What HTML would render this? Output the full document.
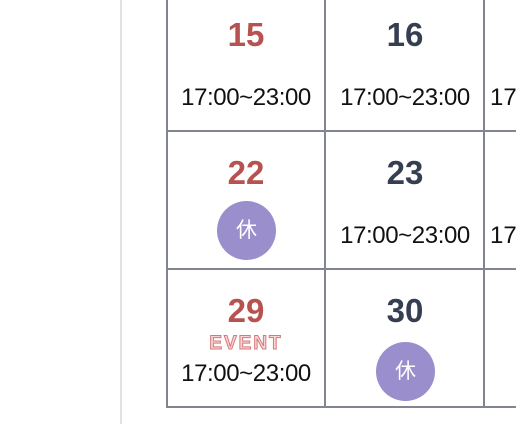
<!DOCTYPE html>
<html><head><meta charset="utf-8"><style>
html,body{margin:0;width:516px;height:424px;overflow:hidden}
body{background:#fff;position:relative;font-family:"Liberation Sans","Noto Sans CJK JP",sans-serif}
#wrap{position:absolute;left:0;top:0;width:516px;height:424px;overflow:hidden}
.vl{position:absolute;left:120px;top:0;width:2px;height:424px;background:#e2e2e6}
.grid{position:absolute;background:#80858f}
.num{position:absolute;width:158px;text-align:center;font-size:33px;font-weight:bold;line-height:1}
.red{color:#b6524f}.dark{color:#363e52}
.time{position:absolute;width:158px;text-align:center;font-size:24px;color:#111;line-height:1;letter-spacing:-0.4px}
.off{position:absolute;width:59px;height:59px;border-radius:50%;background:#9a8ecc;color:#fff;font-size:21px;text-align:center;line-height:59px}
.ev{position:absolute;width:158px;text-align:center;font-size:19px;font-weight:bold;color:#f6d6d6;-webkit-text-stroke:1px #d9787a;letter-spacing:2px;line-height:1}
.part{position:absolute;left:490px;width:26px;overflow:hidden;white-space:nowrap;font-size:24px;color:#111;line-height:1}
</style></head><body>
<div id="wrap">
<div class="vl"></div>
<div class="grid" style="left:166px;top:0;width:2px;height:408px"></div>
<div class="grid" style="left:324px;top:0;width:2px;height:408px"></div>
<div class="grid" style="left:483px;top:0;width:2px;height:408px"></div>
<div class="grid" style="left:166px;top:130px;width:350px;height:2px"></div>
<div class="grid" style="left:166px;top:268px;width:350px;height:2px"></div>
<div class="grid" style="left:166px;top:406px;width:350px;height:2px"></div>

<div class="num red" style="left:167px;top:18px">15</div>
<div class="time" style="left:167px;top:86px">17:00~23:00</div>
<div class="num dark" style="left:326px;top:18px">16</div>
<div class="time" style="left:326px;top:86px">17:00~23:00</div>
<div class="part" style="top:86px">17:00~23:00</div>

<div class="num red" style="left:167px;top:156px">22</div>
<div class="off" style="left:217px;top:201px">休</div>
<div class="num dark" style="left:326px;top:156px">23</div>
<div class="time" style="left:326px;top:224px">17:00~23:00</div>
<div class="part" style="top:224px">17:00~23:00</div>

<div class="num red" style="left:167px;top:294px">29</div>
<div class="ev" style="left:167px;top:334px">EVENT</div>
<div class="time" style="left:167px;top:362px">17:00~23:00</div>
<div class="num dark" style="left:326px;top:294px">30</div>
<div class="off" style="left:376px;top:342px">休</div>
</div>
</body></html>
